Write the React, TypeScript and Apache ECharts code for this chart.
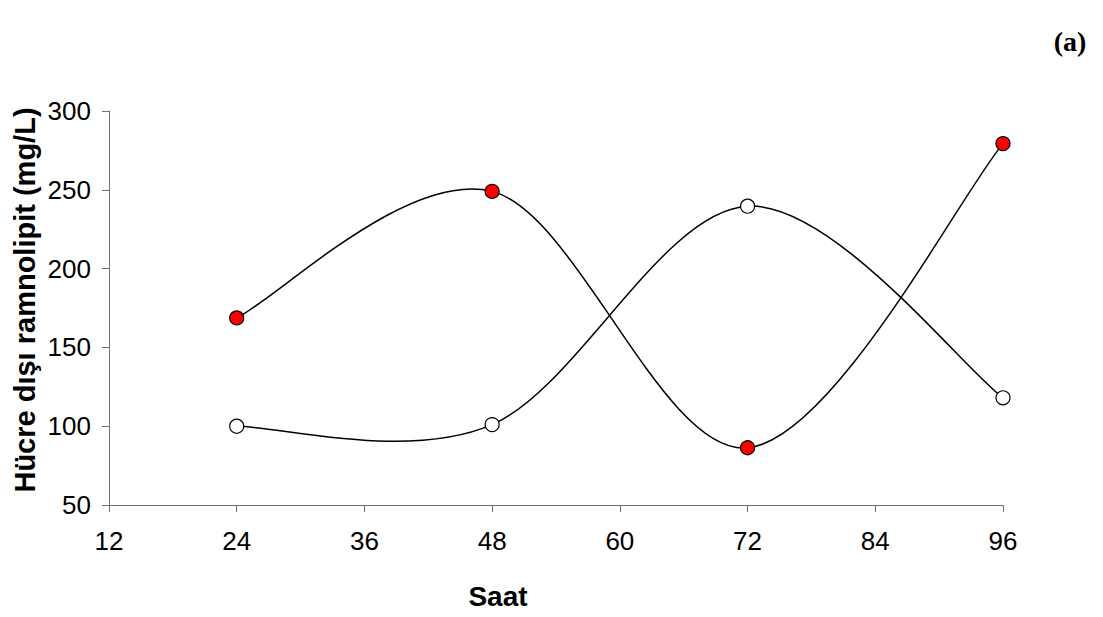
import React, { useEffect, useRef } from "react";
import * as echarts from "echarts";

const hours = [24, 48, 72, 96];
const redSeries = [168.7, 249, 86.3, 279.3];
const whiteSeries = [100, 101, 239.6, 118];
const xTicks = [12, 24, 36, 48, 60, 72, 84, 96];
const yTicks = [50, 100, 150, 200, 250, 300];

// Excel-style smoothed curve segment (Catmull-Rom -> cubic Bezier) drawn through the axis scale
function makeCurve(values: number[]) {
  return (params: any, api: any) => {
    const i = params.dataIndex;
    if (i >= hours.length - 1) return null;
    const P = hours.map((h, k) => api.coord([h, values[k]]));
    const p0 = P[Math.max(i - 1, 0)];
    const p1 = P[i];
    const p2 = P[i + 1];
    const p3 = P[Math.min(i + 2, P.length - 1)];
    return {
      type: "bezierCurve",
      shape: {
        x1: p1[0], y1: p1[1], x2: p2[0], y2: p2[1],
        cpx1: p1[0] + (p2[0] - p0[0]) / 6,
        cpy1: p1[1] + (p2[1] - p0[1]) / 6,
        cpx2: p2[0] - (p3[0] - p1[0]) / 6,
        cpy2: p2[1] - (p3[1] - p1[1]) / 6,
      },
      style: { stroke: "#000", lineWidth: 1.5, fill: "none" },
    };
  };
}

export default function App() {
  const ref = useRef<HTMLDivElement>(null);
  useEffect(() => {
    if (!ref.current) return;
    const chart = echarts.init(ref.current, undefined, { renderer: "svg" });
    const axisColor = "#707070";
    const labelStyle = { color: "#000", fontFamily: "Liberation Sans", fontSize: 26 };
    const whiteData = hours.map((h, i) => [h, whiteSeries[i]]);
    const redData = hours.map((h, i) => [h, redSeries[i]]);
    chart.setOption({
      animation: false,
      backgroundColor: "#fff",
      grid: { left: 109, right: 100, top: 111, bottom: 112 },
      xAxis: {
        type: "value", min: xTicks[0], max: xTicks[xTicks.length - 1], interval: 12,
        splitLine: { show: false },
        axisLine: { show: true, lineStyle: { color: axisColor, width: 1 } },
        axisTick: { show: true, length: 7, lineStyle: { color: axisColor } },
        axisLabel: { ...labelStyle, margin: 23 },
      },
      yAxis: {
        type: "value", min: yTicks[0], max: yTicks[yTicks.length - 1], interval: 50,
        splitLine: { show: false },
        axisLine: { show: true, lineStyle: { color: axisColor, width: 1 } },
        axisTick: { show: true, length: 7, lineStyle: { color: axisColor } },
        axisLabel: { ...labelStyle, margin: 18 },
      },
      graphic: [
        {
          type: "text", x: 1070, y: 41,
          style: { text: "(a)", font: "bold 28px 'Liberation Serif', 'Times New Roman', serif", fill: "#000", align: "center", verticalAlign: "middle" },
        },
        {
          type: "text", x: 498, y: 596,
          style: { text: "Saat", font: "bold 28px 'Liberation Sans', Arial, sans-serif", fill: "#000", align: "center", verticalAlign: "middle" },
        },
        {
          type: "text", x: 25, y: 300, rotation: Math.PI / 2,
          style: { text: "Hücre dışı ramnolipit (mg/L)", font: "bold 29px 'Liberation Sans', Arial, sans-serif", fill: "#000", align: "center", verticalAlign: "middle" },
        },
      ],
      series: [
        { type: "custom", coordinateSystem: "cartesian2d", data: whiteData, renderItem: makeCurve(whiteSeries), z: 1 },
        { type: "custom", coordinateSystem: "cartesian2d", data: redData, renderItem: makeCurve(redSeries), z: 1 },
        { type: "scatter", data: whiteData, symbol: "circle", symbolSize: 14, itemStyle: { color: "#fff", borderColor: "#000", borderWidth: 1.2, opacity: 1 }, z: 3 },
        { type: "scatter", data: redData, symbol: "circle", symbolSize: 14, itemStyle: { color: "#ff0000", borderColor: "#000", borderWidth: 1.2, opacity: 1 }, z: 3 },
      ],
    });
    return () => chart.dispose();
  }, []);
  return <div ref={ref} style={{ width: 1103, height: 617, position: "absolute", left: 0, top: 0 }} />;
}
